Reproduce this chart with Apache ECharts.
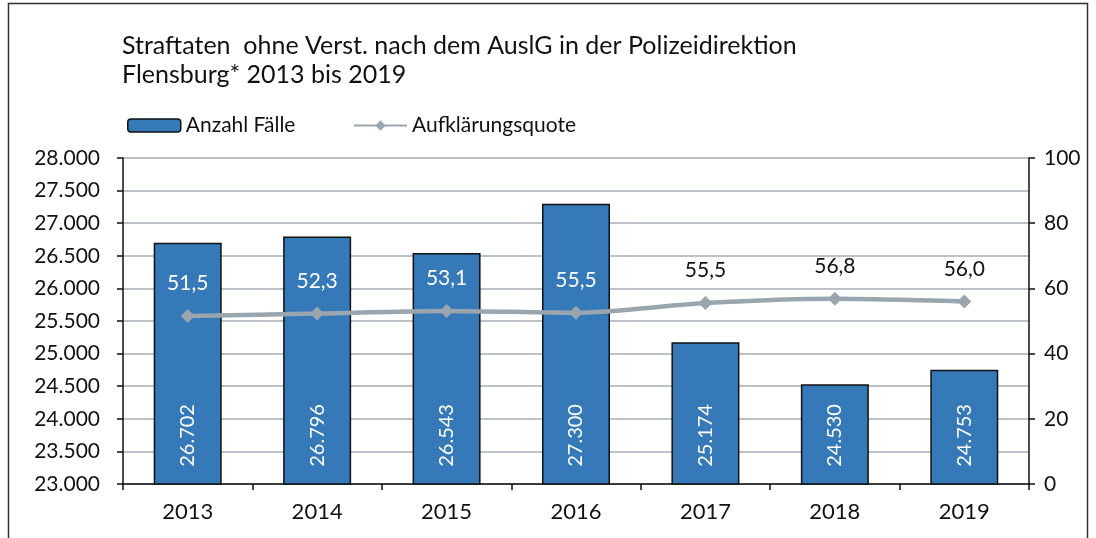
<!DOCTYPE html>
<html>
<head>
<meta charset="utf-8">
<script src="https://cdn.jsdelivr.net/npm/echarts@6/dist/echarts.min.js"></script>
<style>
  html, body { margin: 0; padding: 0; background: #fff; }
  #chart { width: 1096px; height: 538px; }
</style>
</head>
<body>
<div id="chart"></div>
<script>
const years = ["2013", "2014", "2015", "2016", "2017", "2018", "2019"];
const cases = [26702, 26796, 26543, 27300, 25174, 24530, 24753];
// plotted position of the rate line
const rate = [51.5, 52.3, 53.1, 52.5, 55.5, 56.8, 56.0];
// printed rate labels
const rateLabels = ["51,5", "52,3", "53,1", "55,5", "55,5", "56,8", "56,0"];

const FONT = "Lato";
const fmtThousands = (v) => String(v).replace(/\B(?=(\d{3})+(?!\d))/g, ".");

const chart = echarts.init(document.getElementById("chart"));

const legendText = { fontFamily: FONT, fontSize: 21, color: "#111" };

chart.setOption({
  backgroundColor: "#fff",
  animation: false,
  textStyle: { fontFamily: FONT, color: "#111" },
  graphic: [
    {
      type: "rect",
      silent: true,
      shape: { x: 8.5, y: 3.5, width: 1079, height: 600 },
      style: { fill: "none", stroke: "#333", lineWidth: 1.5 }
    }
  ],
  title: {
    text: "Straftaten  ohne Verst. nach dem AuslG in der Polizeidirektion\nFlensburg* 2013 bis 2019",
    left: 117,
    top: 26,
    textStyle: { fontFamily: FONT, fontSize: 25, fontWeight: "normal", color: "#111", lineHeight: 29 }
  },
  legend: [
    {
      left: 122,
      top: 110,
      itemWidth: 53,
      itemHeight: 13,
      textStyle: legendText,
      data: [{ name: "Anzahl Fälle", itemStyle: { borderColor: "#111", borderWidth: 1.5 } }]
    },
    {
      left: 348,
      top: 110,
      itemWidth: 53,
      itemHeight: 13,
      textStyle: legendText,
      data: [{ name: "Aufklärungsquote" }]
    }
  ],
  grid: { left: 123, right: 67, top: 158, bottom: 54 },
  xAxis: {
    type: "category",
    data: years,
    boundaryGap: true,
    axisLine: { lineStyle: { color: "#111", width: 1.5 } },
    axisTick: { show: true, length: 6, lineStyle: { color: "#111", width: 1.5 } },
    axisLabel: { fontFamily: FONT, fontSize: 22, color: "#111", margin: 17 }
  },
  yAxis: [
    {
      type: "value",
      min: 23000,
      max: 28000,
      interval: 500,
      axisLine: { show: true, lineStyle: { color: "#111", width: 1.5 } },
      axisTick: { show: true, length: 6, lineStyle: { color: "#111", width: 1.5 } },
      axisLabel: { fontFamily: FONT, fontSize: 21, color: "#111", margin: 23, formatter: fmtThousands },
      splitLine: { lineStyle: { color: "#a3adb4", width: 1.5 } }
    },
    {
      type: "value",
      min: 0,
      max: 100,
      interval: 20,
      position: "right",
      axisLine: { show: true, lineStyle: { color: "#111", width: 1.5 } },
      axisTick: { show: true, length: 6, lineStyle: { color: "#111", width: 1.5 } },
      axisLabel: { fontFamily: FONT, fontSize: 21, color: "#111", margin: 15 },
      splitLine: { show: false }
    }
  ],
  series: [
    {
      name: "Anzahl Fälle",
      type: "bar",
      data: cases,
      barWidth: 68,
      itemStyle: { color: "#3579b9", borderColor: "#111", borderWidth: 1.5 },
      label: {
        show: true,
        position: "insideBottom",
        rotate: 90,
        align: "left",
        verticalAlign: "middle",
        distance: 18,
        fontFamily: FONT,
        fontSize: 20,
        color: "#fff",
        formatter: (p) => fmtThousands(p.value)
      },
      z: 2
    },
    {
      name: "Aufklärungsquote",
      type: "line",
      yAxisIndex: 1,
      data: rate.map((v, i) => ({
        value: v,
        label: { color: i < 4 ? "#fff" : "#111" }
      })),
      smooth: 0.25,
      symbol: "diamond",
      symbolSize: 14,
      lineStyle: { color: "#9aa5ae", width: 4.5 },
      itemStyle: { color: "#9aa5ae" },
      label: {
        show: true,
        position: "top",
        distance: 15,
        fontFamily: FONT,
        fontSize: 21,
        formatter: (p) => rateLabels[p.dataIndex]
      },
      z: 3
    }
  ]
});
</script>
</body>
</html>
